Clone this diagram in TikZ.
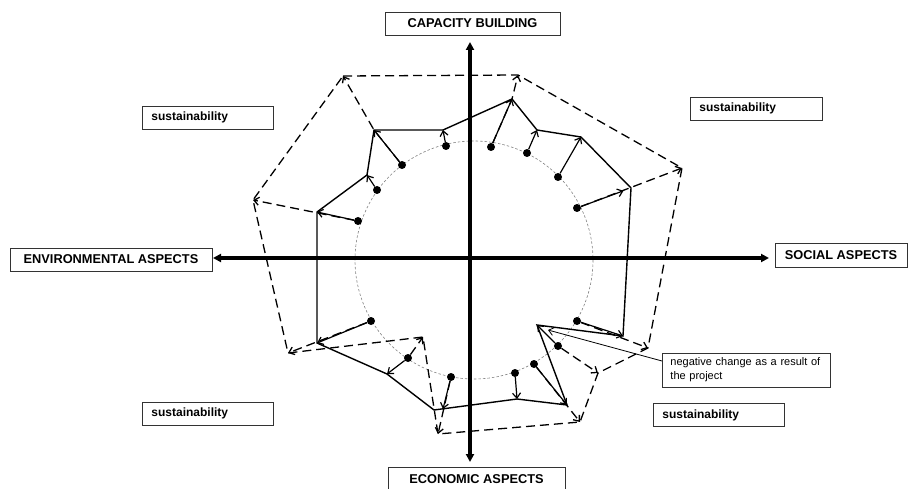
\documentclass[tikz,border=0pt]{standalone}
\usepackage{fontspec}
\setmainfont{Liberation Sans}
\usetikzlibrary{arrows.meta}
\begin{document}
\begin{tikzpicture}[x=1pt,y=-1pt,
  lbl/.style={draw=black!80,line width=0.9pt,font=\bfseries\fontsize{12.8}{15}\selectfont,inner sep=0pt},
  sbox/.style={draw=black!80,line width=0.9pt,font=\bfseries\fontsize{12}{14}\selectfont,anchor=west,inner xsep=9pt,inner ysep=0pt,align=left,minimum height=23pt},
  bdot/.style={circle,fill=black,inner sep=0pt,minimum size=8pt},
  sline/.style={line width=1.4pt,line join=miter},
  dline/.style={line width=1.3pt,dash pattern=on 9pt off 5pt},
  arr/.style={-{Straight Barb[length=5pt,width=8pt]}},
  axisline/.style={line width=3.3pt,{Triangle[length=8pt,width=8pt]}-{Triangle[length=8pt,width=8pt]}},
]
\useasboundingbox (0,0) rectangle (908,489);
\clip (0,0) rectangle (908,489);

% reference circle
\draw[gray,line width=0.6pt,dash pattern=on 2.5pt off 2pt] (474,260) circle[radius=119];

% axes
\coordinate (aT) at (470,42);
\coordinate (aB) at (470,462);
\coordinate (aL) at (213,258);
\coordinate (aR) at (769,258);
\draw[axisline] (aB) -- (aT);
\draw[axisline] (aL) -- (aR);

% axis labels
\node[lbl,fill=white,minimum width=175pt,minimum height=23pt] (cap) at (472.5,23.5) {CAPACITY BUILDING};
\node[lbl,fill=white,minimum width=202pt,minimum height=23pt] (env) at (111,259.5) {ENVIRONMENTAL ASPECTS};
\node[lbl,fill=white,minimum width=132pt,minimum height=24pt] (soc) at (841,255) {SOCIAL ASPECTS};
\node[lbl,fill=white,minimum width=177pt,minimum height=24pt] (eco) at (476.5,479) {ECONOMIC ASPECTS};

% sustainability boxes
\node[sbox,text width=113pt] (susTL) at (142,117.5) {sustainability};
\node[sbox,text width=114pt] (susTR) at (690,108.5) {sustainability};
\node[sbox,text width=113pt] (susBL) at (142,413.5) {sustainability};
\node[sbox,text width=113pt] (susBR) at (653,415) {sustainability};
\node[draw=black!80,line width=0.9pt,anchor=west,inner xsep=8pt,inner ysep=0pt,text width=152pt,align=left,minimum height=34pt,font=\fontsize{11}{14}\selectfont] (neg) at (662,370) {negative change as a result of\\the project};

% solid (project) vertices
\coordinate (s1) at (443,130);
\coordinate (s2) at (512,99);
\coordinate (s3) at (537,130);
\coordinate (s4) at (581,137);
\coordinate (s5) at (631,188);
\coordinate (s6) at (623,336);
\coordinate (s7) at (537,325);
\coordinate (s8) at (567,405);
\coordinate (s9) at (517,399);
\coordinate (s10) at (434,410);
\coordinate (s11) at (387,374);
\coordinate (s12) at (317,343);
\coordinate (s13) at (317,212);
\coordinate (s14) at (367,175);
\coordinate (s15) at (374,130);
\coordinate (t10) at (443,409);

% dashed (sustainability) vertices
\coordinate (D2) at (518,75);
\coordinate (D5) at (682,168);
\coordinate (D6) at (648,348);
\coordinate (D7) at (598,373);
\coordinate (D8) at (580,422);
\coordinate (D10) at (438,434);
\coordinate (D11) at (423,337);
\coordinate (D12) at (288,353);
\coordinate (D13) at (253,200);
\coordinate (D15) at (343,76);

% polygons
\draw[sline] (s1) -- (s2) -- (s3) -- (s4) -- (s5) -- (s6) -- (s7) -- (s8) -- (s9) -- (s10) -- (s11) -- (s12) -- (s13) -- (s14) -- (s15) -- cycle;
\draw[dline] (D15) -- (D2) -- (D5) -- (D6) -- (D7) -- (D8) -- (D10) -- (D11) -- (D12) -- (D13) -- cycle;

% baseline dots
\node[bdot] (d1) at (446,146) {};
\node[bdot] (d2) at (491,147) {};
\node[bdot] (d3) at (527,153) {};
\node[bdot] (d4) at (558,177) {};
\node[bdot] (d5) at (577,208) {};
\node[bdot] (d6) at (577,321) {};
\node[bdot] (d7) at (558,346) {};
\node[bdot] (d8) at (534,364) {};
\node[bdot] (d9) at (515,373) {};
\node[bdot] (d10) at (451,377) {};
\node[bdot] (d11) at (408,358) {};
\node[bdot] (d12) at (371,321) {};
\node[bdot] (d13) at (358,221) {};
\node[bdot] (d14) at (377,190) {};
\node[bdot] (d15) at (402,165) {};

% dashed arrows to sustainability
\draw[dline,arr] (d2) -- (s2) -- (D2);
\draw[dline,arr] (d5) -- (D5);
\draw[dline,arr] (d6) -- (D6);
\draw[dline,arr] (d7) -- (D7);
\draw[dline,arr] (d8) -- (D8);
\draw[dline,arr] (d10) -- (D10);
\draw[dline,arr] (d11) -- (D11);
\draw[dline,arr] (d12) -- (D12);
\draw[dline,arr] (d13) -- (D13);
\draw[dline,arr] (d15) -- (s15) -- (D15);

% solid arrows (project change)
\foreach \i in {1,2,3,4,6,7,8,9,11,12,13,14,15}
  \draw[arr,line width=1.2pt] (d\i) -- (s\i);
\draw[arr,line width=1.2pt,shorten >=8pt] (d5) -- (s5);
\draw[arr,line width=1.2pt] (d10) -- (t10);

% callout
\coordinate (cl) at (548,330);
\draw[arr,line width=0.8pt] ([yshift=9pt]neg.west) -- (cl);
\end{tikzpicture}
\end{document}
